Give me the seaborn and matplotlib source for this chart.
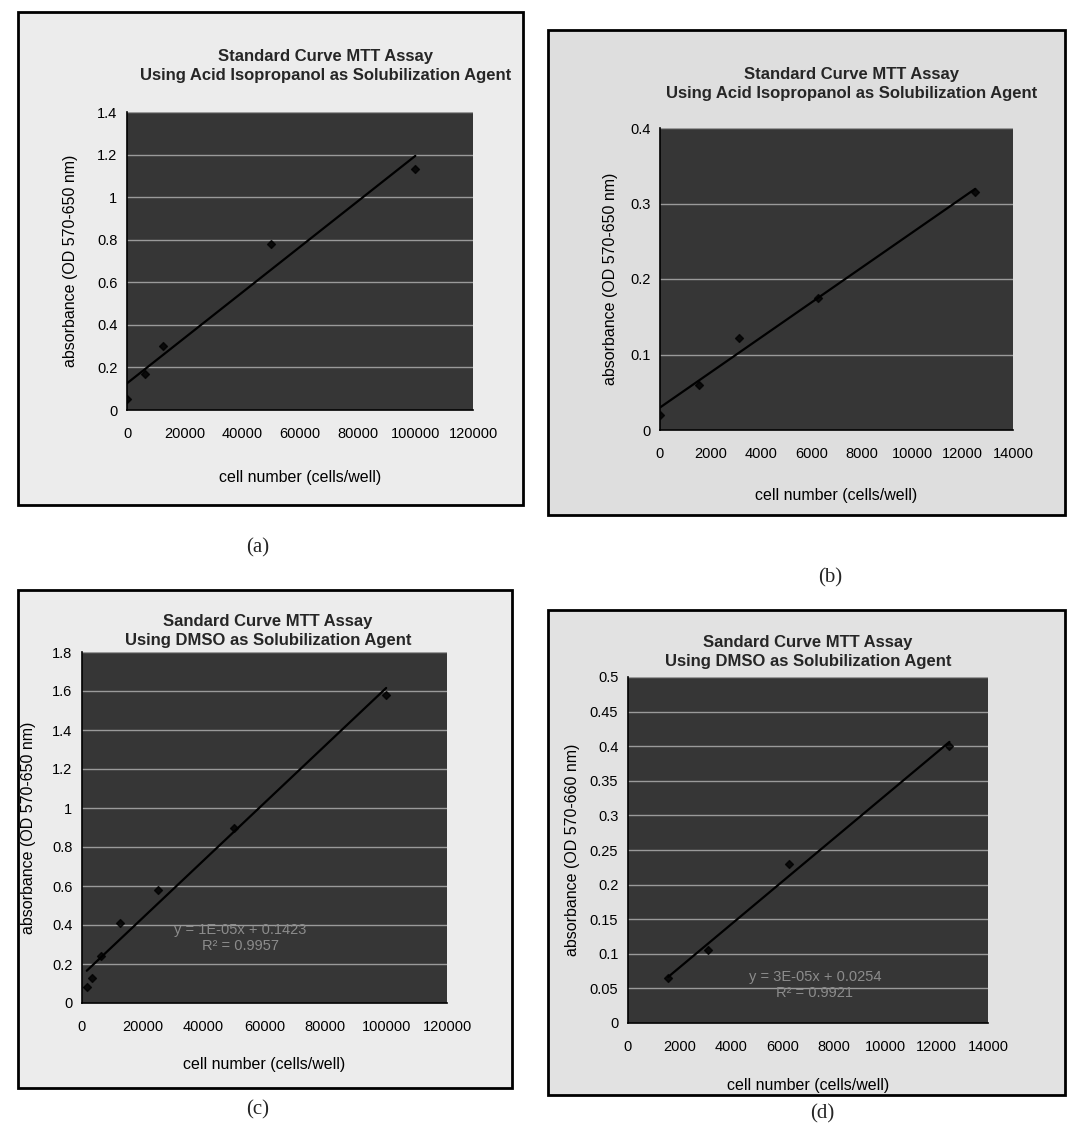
import matplotlib
matplotlib.use("Agg")
import matplotlib.pyplot as plt
from matplotlib.patches import Rectangle
from matplotlib.ticker import FuncFormatter, MultipleLocator
import numpy as np
import seaborn as sns

W, H = 1078, 1136

# data
cells_a = [0, 6250, 12500, 50000, 100000]
abs_a = [0.05, 0.17, 0.30, 0.78, 1.13]

cells_b = [0, 1563, 3125, 6250, 12500]
abs_b = [0.02, 0.06, 0.122, 0.175, 0.315]

cells_c = [1563, 3125, 6250, 12500, 25000, 50000, 100000]
abs_c = [0.08, 0.13, 0.24, 0.41, 0.58, 0.90, 1.58]

cells_d = [1563, 3125, 6250, 12500]
abs_d = [0.065, 0.105, 0.23, 0.40]

title_ipa = "Standard Curve MTT Assay\nUsing Acid Isopropanol as Solubilization Agent"
title_dmso = "Sandard Curve MTT Assay\nUsing DMSO as Solubilization Agent"
ylab_650 = "absorbance (OD 570-650 nm)"
ylab_660 = "absorbance (OD 570-660 nm)"
xlab = "cell number (cells/well)"

sns.set_theme(style="white")
plt.rcParams["font.family"] = ["Liberation Sans", "DejaVu Sans"]

fig = plt.figure(figsize=(W / 100, H / 100), dpi=100, facecolor="white")


def fx(px):
    return px / W


def fy(py):
    return 1 - py / H


panels = [
    # frame (l, t, r, b), plot area (l, t, r, b), data, axis setup, title pos, caption
    dict(frame=(18, 12, 523, 505), area=(127, 112, 473, 410),
         x=cells_a, y=abs_a, xmax=120000, xstep=20000, ymax=1.4, ystep=0.2,
         title=title_ipa, tpos=(326, 66), ylab=ylab_650, ylx=78, xly=470,
         cap="(a)", cpos=(258, 548), face="#ececec", eq=None),
    dict(frame=(548, 30, 1065, 515), area=(660, 128, 1013, 430),
         x=cells_b, y=abs_b, xmax=14000, xstep=2000, ymax=0.4, ystep=0.1,
         title=title_ipa, tpos=(852, 84), ylab=ylab_650, ylx=618, xly=488,
         cap="(b)", cpos=(830, 578), face="#dedede", eq=None),
    dict(frame=(18, 590, 512, 1088), area=(82, 652, 447, 1003),
         x=cells_c, y=abs_c, xmax=120000, xstep=20000, ymax=1.8, ystep=0.2,
         title=title_dmso, tpos=(268, 631), ylab=ylab_650, ylx=36, xly=1057,
         cap="(c)", cpos=(258, 1110), face="#ececec",
         eq=("y = 1E-05x + 0.1423\nR\u00b2 = 0.9957", (240, 938))),
    dict(frame=(548, 610, 1065, 1095), area=(628, 677, 988, 1023),
         x=cells_d, y=abs_d, xmax=14000, xstep=2000, ymax=0.5, ystep=0.05,
         title=title_dmso, tpos=(808, 652), ylab=ylab_660, ylx=580, xly=1078,
         cap="(d)", cpos=(822, 1114), face="#e2e2e2",
         eq=("y = 3E-05x + 0.0254\nR\u00b2 = 0.9921", (815, 985))),
]

fmt = FuncFormatter(lambda v, _: f"{v:g}")

for p in panels:
    l, t, r, b = p["frame"]
    fig.patches.append(Rectangle((fx(l), fy(b)), fx(r - l), (b - t) / H,
                                 transform=fig.transFigure, facecolor=p["face"],
                                 edgecolor="black", linewidth=2, zorder=-5))

    al, at, ar, ab = p["area"]
    ax = fig.add_axes([fx(al), fy(ab), fx(ar - al), (ab - at) / H])
    ax.set_zorder(2)
    ax.set_facecolor("#363636")

    sns.regplot(x=p["x"], y=p["y"], ax=ax, ci=None, marker="D", color="black",
                scatter_kws={"s": 16, "zorder": 3},
                line_kws={"lw": 1.6, "zorder": 2})

    ax.set_xlim(0, p["xmax"])
    ax.set_ylim(0, p["ymax"])
    ax.xaxis.set_major_locator(MultipleLocator(p["xstep"]))
    ax.yaxis.set_major_locator(MultipleLocator(p["ystep"]))
    ax.xaxis.set_major_formatter(fmt)
    ax.yaxis.set_major_formatter(fmt)
    ax.grid(axis="y", color="#9a9a9a", lw=1.0)
    ax.set_axisbelow(True)

    for side in ("top", "right"):
        ax.spines[side].set_visible(False)
    for side in ("left", "bottom"):
        ax.spines[side].set_color("black")
        ax.spines[side].set_linewidth(1.2)
    ax.tick_params(axis="both", direction="out", length=4, width=1,
                   colors="black", labelsize=10.5, pad=3)
    ax.tick_params(axis="x", pad=8)

    ax.set_xlabel(xlab, fontsize=11.5, color="black")
    ax.set_ylabel(p["ylab"], fontsize=11.5, color="black")
    ax.xaxis.set_label_coords(0.5, (ab - p["xly"]) / (ab - at))
    ax.yaxis.set_label_coords((p["ylx"] - al) / (ar - al), 0.5)

    if p["eq"] is not None:
        txt, (ex, ey) = p["eq"]
        ax.text((ex - al) / (ar - al), (ab - ey) / (ab - at), txt,
                transform=ax.transAxes, ha="center", va="center", fontsize=10.5,
                color="#8c8c8c", linespacing=1.2, zorder=4)

    fig.text(fx(p["tpos"][0]), fy(p["tpos"][1]), p["title"], ha="center",
             va="center", fontsize=12, fontweight="bold", linespacing=1.3)
    fig.text(fx(p["cpos"][0]), fy(p["cpos"][1]), p["cap"], ha="center",
             va="center", fontsize=15, family=["Liberation Serif", "DejaVu Serif"])

fig.savefig("out.png", dpi=100, facecolor="white")
